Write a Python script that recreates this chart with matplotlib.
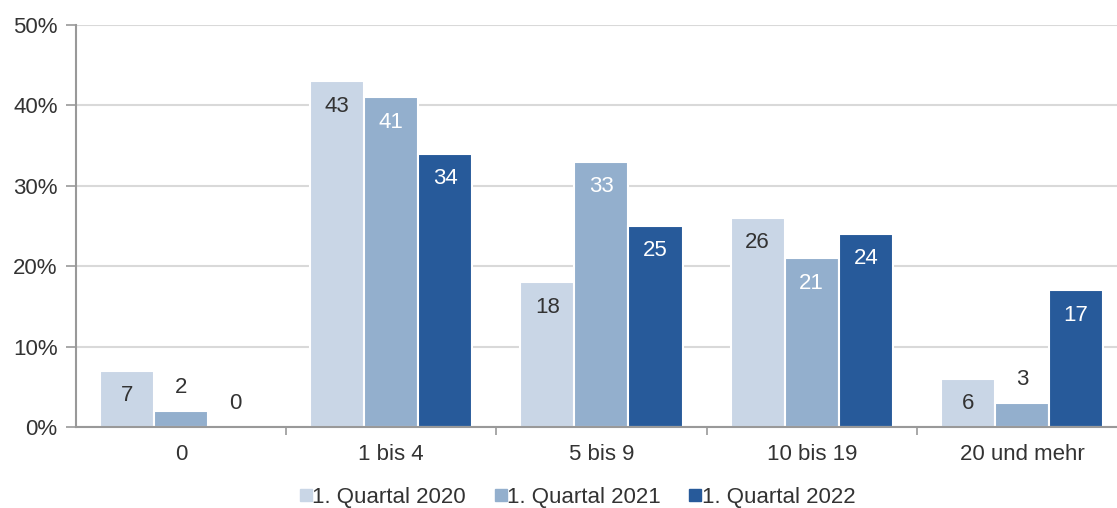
import numpy as np
import matplotlib
matplotlib.use("Agg")
import matplotlib.pyplot as plt
from matplotlib.ticker import FuncFormatter, FixedLocator
from matplotlib.lines import Line2D

plt.rcParams['font.family'] = ['Liberation Sans', 'DejaVu Sans']

categories = ['0', '1 bis 4', '5 bis 9', '10 bis 19', '20 und mehr']
series_names = ['1. Quartal 2020', '1. Quartal 2021', '1. Quartal 2022']
q2020 = [7, 43, 18, 26, 6]
q2021 = [2, 41, 33, 21, 3]
q2022 = [0, 34, 25, 24, 17]

colors = ['#C9D6E6', '#93AFCD', '#275A9A']
inside_text = ['#333333', 'white', 'white']
txt = '#333333'
fs = 16

W, H = 1117, 508
fig = plt.figure(figsize=(W / 100, H / 100), dpi=100)
ax = fig.add_axes([75.7 / W, (H - 427) / H, 1051.5 / W, (427 - 25) / H])

x = np.arange(len(categories))
bw = 0.257
for i, vals in enumerate([q2020, q2021, q2022]):
    pos = x + (i - 1) * bw
    ax.bar(pos, vals, width=bw, color=colors[i], edgecolor='white', linewidth=1.5, zorder=3)
    for p, v in zip(pos, vals):
        if v >= 5:
            ax.text(p, v - 3.1, str(v), ha='center', va='center', fontsize=fs,
                    color=inside_text[i], zorder=4)
        else:
            ax.text(p, v + 2.9, str(v), ha='center', va='center', fontsize=fs,
                    color=txt, zorder=4)

ax.set_xlim(-0.5, len(categories) - 0.5)
ax.set_ylim(0, 50)
ax.set_yticks(np.arange(0, 51, 10))
ax.yaxis.set_major_formatter(FuncFormatter(lambda v, _: f'{int(v)}%'))
ax.grid(axis='y', color='#D9D9D9', linewidth=1.5, zorder=0)

ax.xaxis.set_major_locator(FixedLocator(x[:-1] + 0.5))
ax.set_xticklabels([])
ax.xaxis.set_minor_locator(FixedLocator(x))
ax.set_xticklabels(categories, minor=True)
ax.tick_params(axis='x', which='minor', length=0, pad=12, labelsize=fs, labelcolor=txt)
ax.tick_params(axis='x', which='major', length=6, color='#999999', width=1.2)
ax.tick_params(axis='y', length=7, color='#999999', width=1.2, labelsize=fs,
               labelcolor=txt, pad=6)

for s in ['top', 'right']:
    ax.spines[s].set_visible(False)
for s in ['left', 'bottom']:
    ax.spines[s].set_color('#999999')
    ax.spines[s].set_linewidth(1.5)
    ax.spines[s].set_zorder(5)

handles = [Line2D([0], [0], marker='s', linestyle='none', markersize=9,
                  markerfacecolor=c, markeredgecolor=c) for c in colors]
fig.legend(handles, series_names, loc='center', bbox_to_anchor=(578 / W, 11 / H),
           ncol=3, frameon=False, fontsize=fs, handlelength=0.5, handletextpad=0.05,
           columnspacing=1.3, labelcolor=txt)

fig.savefig('out.png', dpi=100)
